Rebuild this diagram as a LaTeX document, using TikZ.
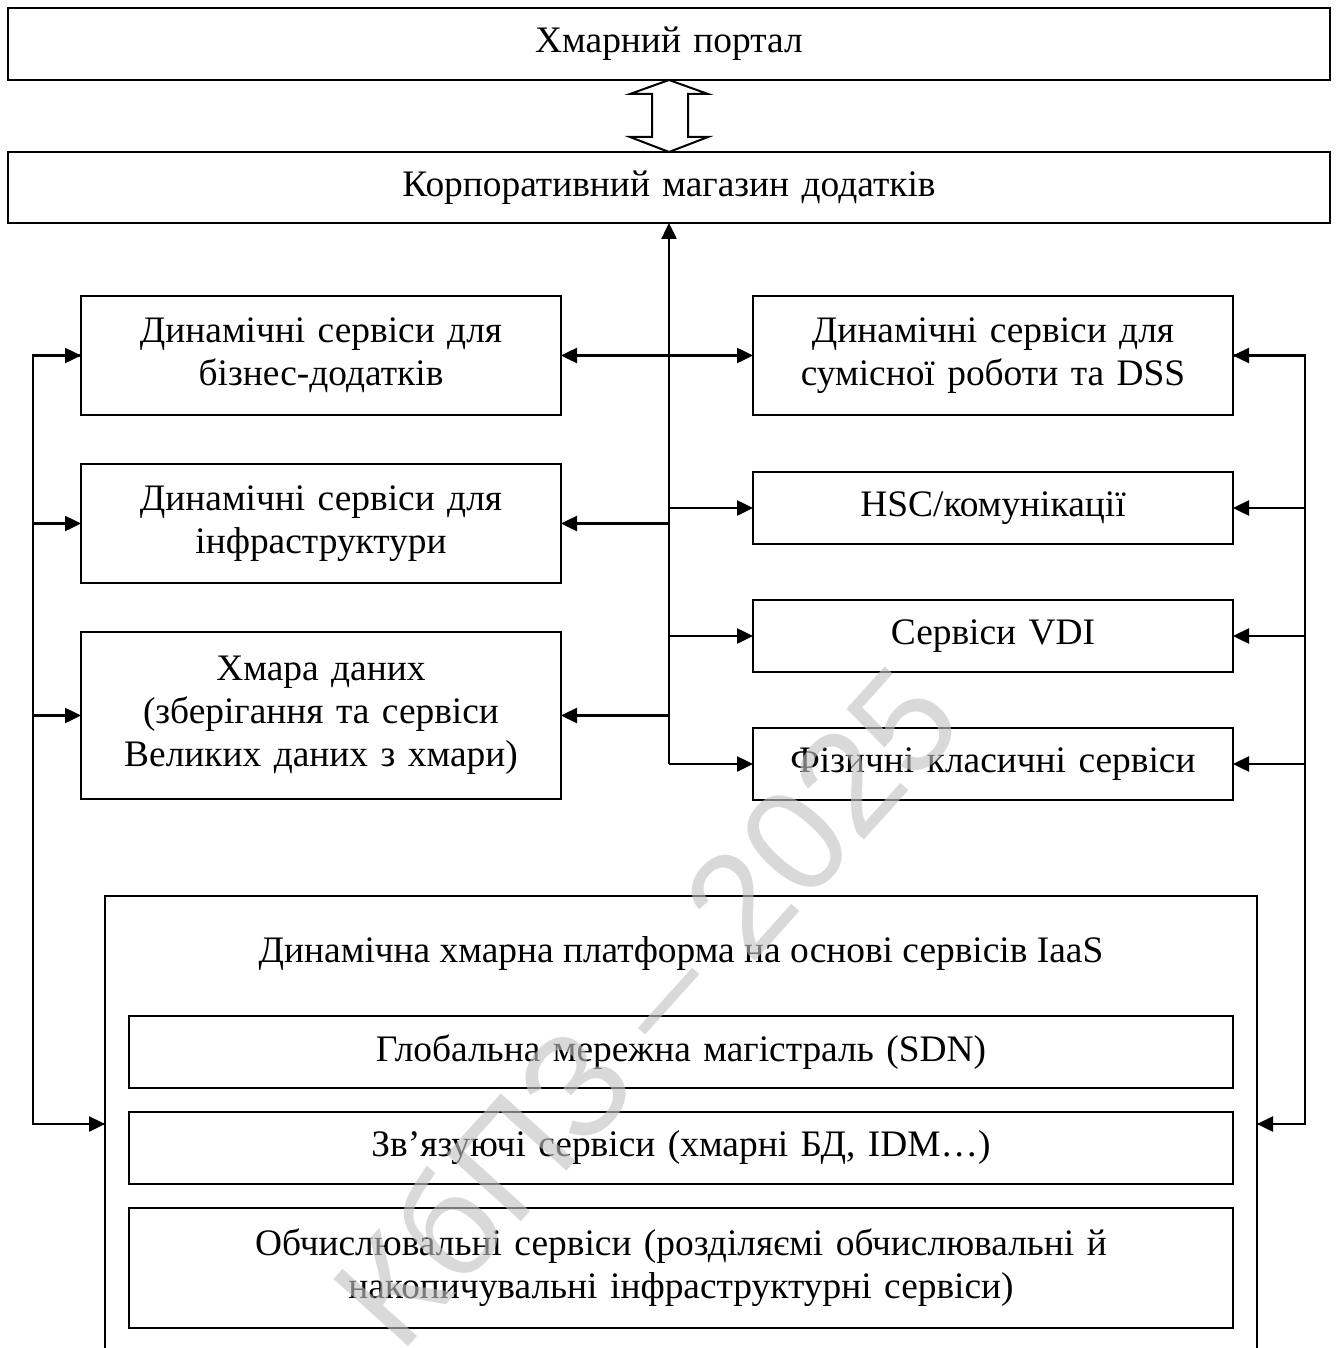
\documentclass[tikz,border=0pt]{standalone}
\usepackage{fontspec}
\setmainfont{Liberation Serif}
\newfontfamily\wmfont{Liberation Sans}
\usetikzlibrary{arrows.meta}
\begin{document}
\begin{tikzpicture}[x=1pt,y=-1pt,
  box/.style={draw,line width=2pt,rectangle,inner sep=0pt,outer sep=0pt,align=center,
    font=\fontsize{37.4}{43}\selectfont,text width=#1},
  box/.default=470pt,
  conn/.style={line width=2.5pt},
  arr/.style={conn,-{Triangle[length=16pt,width=15pt]}},
  arrb/.style={conn,{Triangle[length=16pt,width=15pt]}-{Triangle[length=16pt,width=15pt]}},
  lbl/.style={font=\fontsize{37.4}{43}\selectfont,inner sep=0pt,align=center}
]
\useasboundingbox (0,0) rectangle (1338,1348);
\fill[white] (0,0) rectangle (1338,1348);

% top boxes
\node[box=1300pt,minimum width=1322pt,minimum height=72pt] (portal) at (669,44) {Хмарний портал};
\node[box=1300pt,minimum width=1322pt,minimum height=71pt] (store) at (669,187.5) {Корпоративний магазин додатків};

% hollow double arrow
\draw[line width=2pt,line join=miter] (portal.south) -- (708,94) -- (688,94) -- (688,137) -- (708,137)
  -- (store.north) -- (630,137) -- (652,137) -- (652,94) -- (630,94) -- cycle;

% left boxes
\node[box,minimum width=480pt,minimum height=119pt] (L1) at (321,355.5) {Динамічні сервіси для\\бізнес-додатків};
\node[box,minimum width=480pt,minimum height=119pt] (L2) at (321,523.5) {Динамічні сервіси для\\інфраструктури};
\node[box,minimum width=480pt,minimum height=167pt] (L3) at (321,715.5) {Хмара даних\\(зберігання та сервіси\\Великих даних з хмари)};

% right boxes
\node[box,minimum width=480pt,minimum height=119pt] (R1) at (993,355.5) {Динамічні сервіси для\\сумісної роботи та DSS};
\node[box,minimum width=480pt,minimum height=72pt] (R2) at (993,508) {HSC/комунікації};
\node[box,minimum width=480pt,minimum height=72pt] (R3) at (993,636) {Сервіси VDI};
\node[box,minimum width=480pt,minimum height=72pt] (R4) at (993,764) {Фізичні класичні сервіси};

% big platform box (open at the bottom)
\coordinate (PBL) at (105,1348);
\coordinate (PTL) at (105,896);
\coordinate (PTR) at (1257,896);
\coordinate (PBR) at (1257,1348);
\draw[line width=2pt] (PBL) -- (PTL) -- (PTR) -- (PBR);
\node[lbl] (ptitle) at (681,953) {Динамічна хмарна платформа на основі сервісів IaaS};
\node[box=1090pt,minimum width=1104pt,minimum height=72pt] (I1) at (681,1052) {Глобальна мережна магістраль (SDN)};
\node[box=1090pt,minimum width=1104pt,minimum height=72pt] (I2) at (681,1148) {Зв’язуючі сервіси (хмарні БД, IDM…)};
\node[box=1090pt,minimum width=1104pt,minimum height=120pt] (I3) at (681,1268) {Обчислювальні сервіси (розділяємі обчислювальні й\\накопичувальні інфраструктурні сервіси)};

% central trunk
\coordinate (J1) at (669,355.5);
\coordinate (JR2) at (669,508);
\coordinate (JL2) at (669,523.5);
\coordinate (JR3) at (669,636);
\coordinate (JL3) at (669,715.5);
\coordinate (JR4) at (669,764);
\draw[arr] (JR4) -- (store.south);
\draw[arrb] (L1.east) -- (R1.west);
\draw[arr] (JL2) -- (L2.east);
\draw[arr] (JL3) -- (L3.east);
\draw[arr] (JR2) -- (R2.west);
\draw[arr] (JR3) -- (R3.west);
\draw[arr] (JR4) -- (R4.west);

% left bus
\coordinate (LT) at (33,355.5);
\coordinate (LB) at (33,1124);
\coordinate (PL) at (105,1124);
\draw[conn,line join=miter] (L1.west) -- (LT) -- (LB) -- (PL);
\draw[arr] (LT) -- (L1.west);
\draw[arr] (L2.west -| LT) -- (L2.west);
\draw[arr] (L3.west -| LT) -- (L3.west);
\draw[arr] (LB) -- (PL);

% right bus
\coordinate (RT) at (1305,355.5);
\coordinate (RB) at (1305,1124);
\coordinate (PR) at (1257,1124);
\draw[conn,line join=miter] (R1.east) -- (RT) -- (RB) -- (PR);
\draw[arr] (RT) -- (R1.east);
\draw[arr] (R2.east -| RT) -- (R2.east);
\draw[arr] (R3.east -| RT) -- (R3.east);
\draw[arr] (R4.east -| RT) -- (R4.east);
\draw[arr] (RB) -- (PR);

% watermark
\node[rotate=48,text=black!23.5,opacity=0.62,font=\wmfont\fontsize{146}{146}\selectfont,inner sep=0pt] (wm) at (645,1005) {КбПЗ – 2025};
\end{tikzpicture}
\end{document}
